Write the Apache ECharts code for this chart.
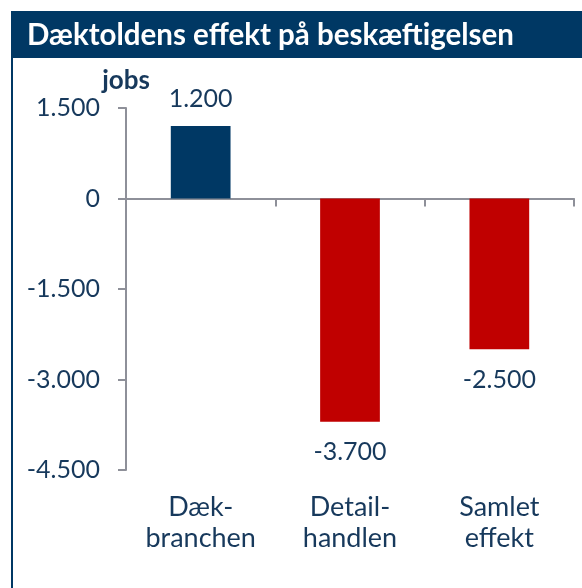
<!DOCTYPE html>
<html>
<head>
<meta charset="utf-8">
<script src="https://cdn.jsdelivr.net/npm/echarts@6/dist/echarts.min.js"></script>
<style>
  html, body { margin: 0; padding: 0; background: #fff; }
  #chart { width: 582px; height: 588px; }
</style>
</head>
<body>
<div id="chart"></div>
<script>
var categories = ['Dæk-\nbranchen', 'Detail-\nhandlen', 'Samlet\neffekt'];
var jobValues = [1200, -3700, -2500];
var barColors = ['#003864', '#c00000', '#c00000'];

var textColor = '#17395c';
var axisGrey = '#8e9099';
var fontName = 'Lato';

function fmt(v) {
    var s = Math.abs(v).toString().replace(/\B(?=(\d{3})+(?!\d))/g, '.');
    return (v < 0 ? '-' : '') + s;
}

var barData = [];
for (var i = 0; i < jobValues.length; i++) {
    barData.push({
        value: jobValues[i],
        itemStyle: { color: barColors[i] },
        label: {
            position: jobValues[i] >= 0 ? 'top' : 'bottom',
            distance: jobValues[i] >= 0 ? 15 : 18
        }
    });
}

var chart = echarts.init(document.getElementById('chart'));
chart.setOption({
    backgroundColor: '#fff',
    animation: false,
    textStyle: { fontFamily: fontName },
    title: {
        text: 'Dæktoldens effekt på beskæftigelsen',
        left: 22,
        top: 15,
        textStyle: { color: '#fff', fontSize: 29.5, fontWeight: 'bold', fontFamily: fontName }
    },
    graphic: [
        { type: 'rect', z: -1, shape: { x: 11, y: 11, width: 571, height: 47 }, style: { fill: '#003864' } },
        { type: 'rect', z: -1, shape: { x: 11, y: 58, width: 2, height: 530 }, style: { fill: '#003864' } }
    ],
    grid: { left: 126, right: 8, top: 108, bottom: 118 },
    xAxis: [{
        type: 'category',
        data: categories,
        axisLine: { onZero: true, lineStyle: { color: axisGrey, width: 2 } },
        axisTick: { show: true, length: 8, lineStyle: { color: axisGrey, width: 2 } },
        axisLabel: { show: false }
    }, {
        type: 'category',
        data: categories,
        position: 'bottom',
        axisLine: { show: false },
        axisTick: { show: false },
        axisLabel: {
            margin: 22,
            color: textColor,
            fontSize: 27,
            lineHeight: 31,
            fontFamily: fontName
        }
    }],
    yAxis: {
        type: 'value',
        min: -4500,
        max: 1500,
        interval: 1500,
        name: 'jobs',
        nameLocation: 'end',
        nameGap: 14,
        nameTextStyle: { color: textColor, fontSize: 26, fontWeight: 'bold', fontFamily: fontName },
        axisLine: { show: true, lineStyle: { color: axisGrey, width: 2 } },
        axisTick: { show: true, length: 8, lineStyle: { color: axisGrey, width: 2 } },
        splitLine: { show: false },
        axisLabel: {
            margin: 26,
            color: textColor,
            fontSize: 25,
            fontFamily: fontName,
            formatter: fmt
        }
    },
    series: [{
        type: 'bar',
        xAxisIndex: 0,
        barWidth: '40%',
        data: barData,
        label: {
            show: true,
            color: textColor,
            fontSize: 25,
            fontFamily: fontName,
            formatter: function (p) { return fmt(p.value); }
        }
    }]
});
</script>
</body>
</html>
